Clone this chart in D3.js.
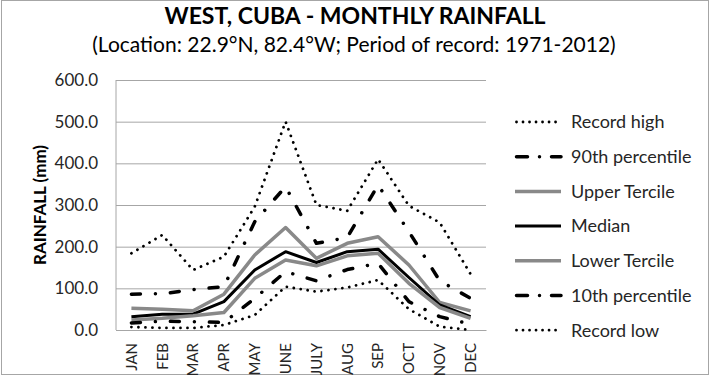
<!DOCTYPE html>
<html>
<head>
<meta charset="utf-8">
<script src="https://cdn.jsdelivr.net/npm/d3@7"></script>
<style>
  body { margin: 0; background: #fff; }
  svg { display: block; font-family: Lato, "Open Sans", sans-serif; }
</style>
</head>
<body>
<div id="chart"></div>
<script>
// monthly rainfall stats (mm)
const months = ["JAN", "FEB", "MAR", "APR", "MAY", "JUNE", "JULY", "AUG", "SEP", "OCT", "NOV", "DEC"];
const recordHigh = [184, 228, 144, 176, 296, 500, 300, 286, 410, 298, 258, 134];
const pct90 = [86, 87, 97, 104, 260, 344, 208, 222, 348, 236, 118, 76];
const upperTercile = [52, 50, 46, 86, 180, 246, 172, 208, 224, 156, 66, 46];
const median = [32, 38, 38, 68, 144, 188, 162, 188, 194, 126, 60, 32];
const lowerTercile = [24, 28, 34, 42, 124, 168, 154, 178, 184, 112, 54, 28];
const pct10 = [17, 21, 20, 18, 76, 140, 118, 145, 160, 68, 32, 14];
const recordLow = [7, 5, 5, 12, 36, 104, 92, 102, 120, 50, 8, 0];
const yTicks = [0, 100, 200, 300, 400, 500, 600];

const series = [
    { name: "Record high", values: recordHigh, color: "#000", width: 2.8, dash: "0.01,7", cap: "round" },
    { name: "90th percentile", values: pct90, color: "#000", width: 3.5, dash: "9,15,0.01,15", cap: "round" },
    { name: "Upper Tercile", values: upperTercile, color: "#898989", width: 3.5, dash: null, cap: "butt" },
    { name: "Median", values: median, color: "#000", width: 3, dash: null, cap: "butt" },
    { name: "Lower Tercile", values: lowerTercile, color: "#898989", width: 3.5, dash: null, cap: "butt" },
    { name: "10th percentile", values: pct10, color: "#000", width: 3.5, dash: "9,15,0.01,15", cap: "round" },
    { name: "Record low", values: recordLow, color: "#000", width: 2.8, dash: "0.01,7", cap: "round" }
];

const W = 710, H = 375;
const margin = { top: 80, right: 224, bottom: 45, left: 116 };
const width = W - margin.left - margin.right;
const height = H - margin.top - margin.bottom;

const svg = d3.select("#chart").append("svg")
    .attr("width", W)
    .attr("height", H);

svg.append("rect")
    .attr("x", 1.5).attr("y", 0.5)
    .attr("width", W - 3).attr("height", H - 1)
    .attr("fill", "#fff")
    .attr("stroke", "#a6a6a6")
    .attr("stroke-width", 1);

svg.append("text")
    .attr("x", 355).attr("y", 24)
    .attr("text-anchor", "middle")
    .style("font-size", "23px")
    .style("font-weight", "bold")
    .text("WEST, CUBA - MONTHLY RAINFALL");

svg.append("text")
    .attr("x", 354).attr("y", 52)
    .attr("text-anchor", "middle")
    .style("font-size", "21px")
    .text("(Location: 22.9°N, 82.4°W; Period of record: 1971-2012)");

const g = svg.append("g")
    .attr("transform", `translate(${margin.left}, ${margin.top})`);

const x = d3.scaleBand()
    .domain(months)
    .range([0, width]);

const y = d3.scaleLinear()
    .domain([0, 600])
    .range([height, 0]);

// gridlines + y labels
const yAxis = d3.axisLeft(y)
    .tickValues(yTicks)
    .tickFormat(d3.format(".1f"))
    .tickSize(-width)
    .tickPadding(18);

g.append("g")
    .call(yAxis)
    .call(a => a.select(".domain").remove())
    .call(a => a.selectAll(".tick line").attr("stroke", "#a6a6a6"))
    .call(a => a.selectAll(".tick text")
        .attr("fill", "#262626")
        .style("font-size", "17px")
        .style("font-family", "Lato, sans-serif"));

g.append("line")
    .attr("x1", 0).attr("x2", 0)
    .attr("y1", 0).attr("y2", height)
    .attr("stroke", "#a6a6a6");

const xAxis = d3.axisBottom(x).tickSize(0).tickPadding(0);
g.append("g")
    .attr("transform", `translate(0, ${height})`)
    .call(xAxis)
    .call(a => a.select(".domain").attr("stroke", "#a6a6a6"))
    .call(a => a.selectAll(".tick text")
        .attr("transform", "rotate(-90)")
        .attr("text-anchor", "end")
        .attr("x", -13)
        .attr("y", 0)
        .attr("dy", "0.35em")
        .attr("fill", "#262626")
        .style("font-size", "15px")
        .style("font-family", "Lato, sans-serif"));

svg.append("text")
    .attr("transform", `translate(46, 205) rotate(-90)`)
    .attr("text-anchor", "middle")
    .style("font-size", "17px")
    .style("font-weight", "bold")
    .text("RAINFALL (mm)");

const line = d3.line()
    .x((d, i) => x(months[i]) + x.bandwidth() / 2)
    .y(d => y(d));

g.selectAll(".series")
    .data(series)
    .enter()
    .append("path")
    .attr("class", "series")
    .attr("d", d => line(d.values))
    .attr("fill", "none")
    .attr("stroke", d => d.color)
    .attr("stroke-width", d => d.width)
    .attr("stroke-dasharray", d => d.dash)
    .attr("stroke-linecap", d => d.cap)
    .attr("stroke-linejoin", "round");

// legend
const legend = svg.append("g")
    .attr("transform", "translate(515, 122)");

const item = legend.selectAll(".item")
    .data(series)
    .enter()
    .append("g")
    .attr("class", "item")
    .attr("transform", (d, i) => `translate(0, ${i * 34.7})`);

item.append("line")
    .attr("x1", d => d.cap === "round" ? 1.5 : 0)
    .attr("x2", 46)
    .attr("stroke", d => d.color)
    .attr("stroke-width", d => d.width)
    .attr("stroke-dasharray", d => d.dash === "0.01,7" ? "0.01,6.5" : (d.dash ? "11,12,0.01,12" : null))
    .attr("stroke-linecap", d => d.cap);

item.append("text")
    .attr("x", 56)
    .attr("dy", "0.35em")
    .attr("fill", "#262626")
    .style("font-size", "18px")
    .text(d => d.name);
</script>
</body>
</html>
